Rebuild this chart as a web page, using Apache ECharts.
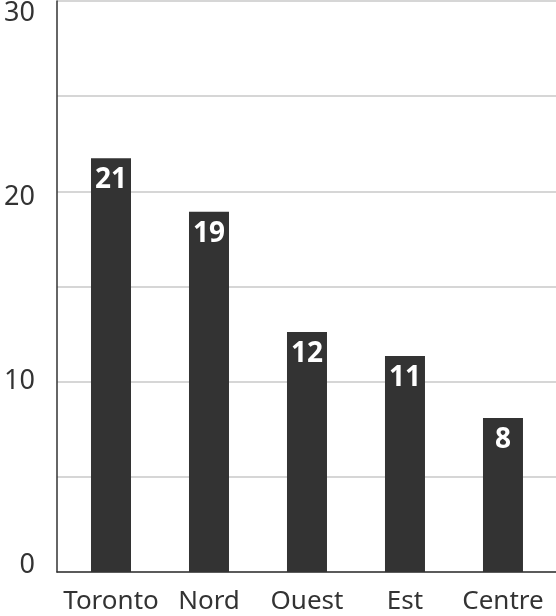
<!DOCTYPE html>
<html>
<head>
<meta charset="utf-8">
<script src="https://cdn.jsdelivr.net/npm/echarts@6/dist/echarts.min.js"></script>
<style>html,body{margin:0;padding:0;background:#fff}#c{width:556px;height:616px}</style>
</head>
<body>
<div id="c"></div>
<script>
const categories = ['Toronto', 'Nord', 'Ouest', 'Est', 'Centre'];
const values = [21.74, 18.93, 12.61, 11.35, 8.09];
const valueLabels = ['21', '19', '12', '11', '8'];
const yTicks = [0, 10, 20, 30];

const FONT = '"Noto Sans", sans-serif';
const chart = echarts.init(document.getElementById('c'), null, {renderer: 'canvas'});
chart.setOption({
  animation: false,
  backgroundColor: '#fff',
  grid: [
    {left: 57, right: 0, top: 1, bottom: 44},
    {left: 57, right: 0, top: 13, bottom: 51}
  ],
  xAxis: [
    {
      type: 'value', gridIndex: 0, min: -0.551, max: 4.541,
      splitLine: {show: false},
      axisLine: {show: true, onZero: false, lineStyle: {color: '#333', width: 1.5}},
      axisTick: {show: false},
      axisLabel: {
        show: true, customValues: [0, 1, 2, 3, 4],
        formatter: v => categories[Math.round(v)],
        color: '#333', fontFamily: FONT, fontSize: 26, margin: 17
      }
    },
    {type: 'value', gridIndex: 1, min: 0, max: 1, show: false}
  ],
  yAxis: [
    {
      type: 'value', gridIndex: 0, min: 0, max: 30, interval: 5,
      axisLine: {show: true, onZero: false, lineStyle: {color: '#333', width: 1.5}},
      axisTick: {show: false},
      axisLabel: {show: false},
      splitLine: {show: true, lineStyle: {color: '#c8c8c8', width: 1.5}}
    },
    {
      type: 'value', gridIndex: 1, min: 0, max: 30, interval: 10,
      axisLine: {show: false}, axisTick: {show: false}, splitLine: {show: false},
      axisLabel: {show: true, color: '#333', fontFamily: FONT, fontSize: 27, margin: 22}
    }
  ],
  series: [{
    type: 'bar',
    xAxisIndex: 0, yAxisIndex: 0,
    barWidth: 40,
    itemStyle: {color: '#333333'},
    data: values.map((v, i) => [i, v]),
    label: {
      show: true, position: 'insideTop', distance: 8,
      formatter: p => valueLabels[p.dataIndex],
      color: '#fff', fontFamily: FONT, fontWeight: 'bold', fontSize: 28
    }
  }]
});
</script>
</body>
</html>
